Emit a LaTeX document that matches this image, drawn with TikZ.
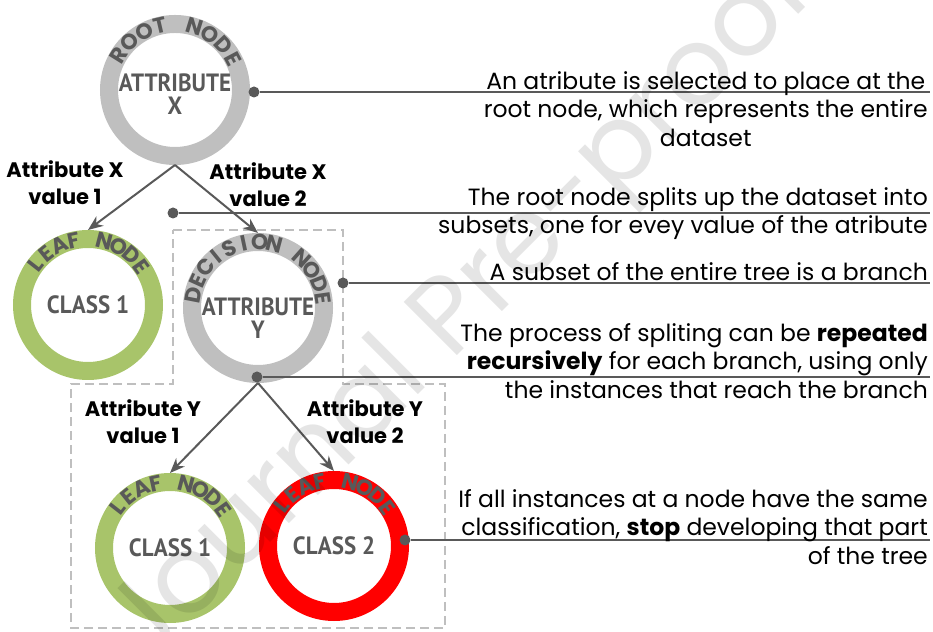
\documentclass[tikz,border=0pt]{standalone}
\usepackage{fontspec}
\setmainfont{Poppins}
\newfontfamily\nodefont[FakeStretch=0.92]{PT Sans}
\usetikzlibrary{arrows.meta,positioning,calc}

\definecolor{textgray}{RGB}{89,89,89}
\definecolor{ringgray}{RGB}{191,191,191}
\definecolor{leafgreen}{RGB}{168,196,106}
\definecolor{leafred}{RGB}{255,0,0}

\tikzset{
  ringtext/.style={font=\nodefont\bfseries\fontsize{25}{23}\selectfont,text=textgray,align=center},
  ring/.style={circle,draw=#1,line width=18pt,minimum size=132pt,inner sep=0pt,ringtext},
  ringletter/.style={inner sep=0pt,font=\bfseries\fontsize{22}{22}\selectfont,text=textgray},
  dot/.style={circle,fill=textgray,inner sep=0pt,minimum size=11pt},
  branch/.style={font=\bfseries\fontsize{21}{27}\selectfont,align=center},
  note/.style={anchor=east,inner sep=0pt,font=\fontsize{23.5}{28.5}\selectfont,align=right},
  guide/.style={draw=textgray,line width=1.2pt},
  arrow/.style={->,draw=textgray,line width=2pt}
}

% letters set round the top of a ring
\newcommand\ringword[4]{%
  \foreach \chr [count=\i from 0, evaluate=\i as \ang using #2-\i*#3] in {#4}
    \node[ringletter,rotate=\ang-90] at ($(#1)+(\ang:66)$) {\chr};}

\begin{document}
\begin{tikzpicture}[x=1pt,y=1pt,>={Stealth[length=15pt,width=12pt]}]
  \useasboundingbox (0,0) rectangle (933,631);

  % the branch
  \draw[ringgray,line width=2.5pt,dash pattern=on 9pt off 5pt]
    (173,401) -- (343,401) -- (343,247) -- (445,247) -- (445,3)
    -- (71,3) -- (71,247) -- (173,247) -- cycle;

  \node[ring=ringgray,label={[ringtext,yshift=-4pt]center:ATTRIBUTE\\X}] (root) at (175,541) {};
  \node[ring=leafgreen] (leaf1) at (88,326) {CLASS 1};
  \node[ring=ringgray,label={[ringtext,yshift=-10pt]center:ATTRIBUTE\\Y}] (decision) at (258,323) {};
  \node[ring=leafgreen] (leaf2) at (170,83) {CLASS 1};
  \node[ring=leafred] (leaf3) at (334,85) {CLASS 2};

  \ringword{root}{148}{15}{R,O,O,T,,N,O,D,E}
  \ringword{leaf1}{142}{13.3}{L,E,A,F,,N,O,D,E}
  \ringword{decision}{169}{13.4}{D,E,C,I,S,I,O,N,,N,O,D,E}
  \ringword{leaf2}{142}{13.3}{L,E,A,F,,N,O,D,E}
  \ringword{leaf3}{142}{13.3}{L,E,A,F,,N,O,D,E}

  \draw[arrow] (root.south) -- (leaf1.north);
  \draw[arrow] (root.south) -- (decision.north);
  \draw[arrow] (decision.south) -- (leaf2.north);
  \draw[arrow] (decision.south) -- (leaf3.north);

  \node[branch] (xval1) at (65,448) {Attribute X\\value 1};
  \node[branch] (xval2) at (268,446) {Attribute X\\value 2};
  \node[branch] (yval1) at (143,209) {Attribute Y\\value 1};
  \node[branch] (yval2) at (365,209) {Attribute Y\\value 2};

  % pointers to the notes
  \node[dot] (d1) at (254,539) {};
  \node[dot] (d2) at (173,418) {};
  \node[dot] (d3) at (343,348) {};
  \node[dot] (d4) at (257,254) {};
  \node[dot] (d5) at (405,91) {};
  \coordinate (e1) at (930,539);
  \coordinate (e2) at (930,418);
  \coordinate (e3) at (930,348);
  \coordinate (e4) at (930,254);
  \coordinate (e5) at (930,91);
  \draw[guide] (d1) -- (e1);
  \draw[guide] (d2) -- (e2);
  \draw[guide] (d3) -- (e3);
  \draw[guide] (d4) -- (e4);
  \draw[guide] (d5) -- (e5);

  \node[note,align=center] (n1) at (928,522)
    {An atribute is selected to place at the\\root node, which represents the entire\\dataset};
  \node[note] (n2) at (928,417.5)
    {The root node splits up the dataset into\\subsets, one for evey value of the atribute};
  \node[note] (n3) at (928,359) {A subset of the entire tree is a branch};
  \node[note] (n4) at (928,270)
    {The process of spliting can be \textbf{repeated}\\\textbf{recursively} for each branch, using only\\the instances that reach the branch};
  \node[note] (n5) at (928,104)
    {If all instances at a node have the same\\classification, \textbf{stop} developing that part\\of the tree};

  \node[rotate=45,text=black,text opacity=0.1,font=\fontsize{108}{108}\selectfont] (mark) at (462,318) {Journal Pre-proof};
\end{tikzpicture}
\end{document}
